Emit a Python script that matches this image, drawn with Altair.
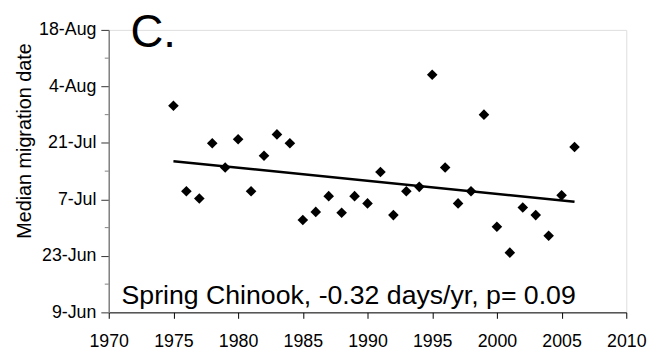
import altair as alt
import pandas as pd

# Year of run and median migration date (day of year, 160 = 9-Jun)
years = list(range(1975, 2007))
median_day = [211.2, 190.0, 188.2, 201.9, 195.9, 202.9, 190.0, 198.8, 204.1, 201.9,
              182.9, 184.9, 188.8, 184.7, 188.8, 187.0, 194.8, 184.1, 190.0, 191.1,
              218.9, 195.9, 187.0, 190.0, 209.0, 181.2, 174.8, 186.0, 184.1, 179.0,
              189.0, 201.0]

y_major = [160, 174, 188, 202, 216, 230]
y_minor = [167, 181, 195, 209, 223]
x_ticks = [1970, 1975, 1980, 1985, 1990, 1995, 2000, 2005, 2010]
panel_label = "C."
annotation = "Spring Chinook, -0.32 days/yr, p= 0.09"

df = pd.DataFrame({"year": years, "day": median_day})
minor_df = pd.DataFrame({"day": y_minor})

FONT = "Liberation Sans"

x_scale = alt.Scale(domain=[1970, 2010], nice=False, zero=False)
y_scale = alt.Scale(domain=[160, 230], nice=False, zero=False)

x_axis = alt.Axis(values=x_ticks, format="d", title=None, grid=False,
                  domainColor="black", tickColor="black", tickSize=6,
                  labelFontSize=18, labelFont=FONT, labelColor="black",
                  labelPadding=15, labelFlush=False)
y_axis = alt.Axis(values=y_major, title="Median migration date", grid=False,
                  labelExpr="timeFormat(datetime(2001, 0, datum.value), '%-d-%b')",
                  domainColor="#808080", domainWidth=1.5, tickColor="#333333",
                  tickSize=8, labelFontSize=18, labelFont=FONT, labelColor="black",
                  labelPadding=5, titleFont=FONT, titleFontSize=20,
                  titleFontWeight="normal", titleColor="black", titlePadding=4,
                  titleY=112)

points = alt.Chart(df).mark_point(shape="diamond", filled=True, color="black",
                                  size=115, opacity=1).encode(
    x=alt.X("year:Q", scale=x_scale, axis=x_axis),
    y=alt.Y("day:Q", scale=y_scale, axis=y_axis),
)

trend = alt.Chart(df).transform_regression("year", "day").mark_line(
    color="black", strokeWidth=2.5).encode(
    x=alt.X("year:Q", scale=x_scale),
    y=alt.Y("day:Q", scale=y_scale),
)

minor = alt.Chart(minor_df).mark_rule(color="#808080", strokeWidth=1).encode(
    y=alt.Y("day:Q", scale=y_scale),
    x=alt.value(-4),
    x2=alt.value(0),
)

label_c = alt.Chart(pd.DataFrame({"t": [panel_label]})).mark_text(
    font=FONT, fontSize=46, align="left", baseline="alphabetic", color="black").encode(
    text="t:N", x=alt.value(22), y=alt.value(17))

label_note = alt.Chart(pd.DataFrame({"t": [annotation]})).mark_text(
    font=FONT, fontSize=27, align="left", baseline="alphabetic", color="black").encode(
    text="t:N", x=alt.value(13), y=alt.value(278))

chart = alt.layer(minor, trend, points, label_c, label_note).properties(
    width=524, height=286,
    autosize=alt.AutoSizeParams(type="none"),
    padding={"left": 102, "top": 20, "right": 23, "bottom": 42},
).configure_view(stroke=None).configure(background="white")

chart.save("out.html", embed_options={"renderer": "svg", "actions": False})
